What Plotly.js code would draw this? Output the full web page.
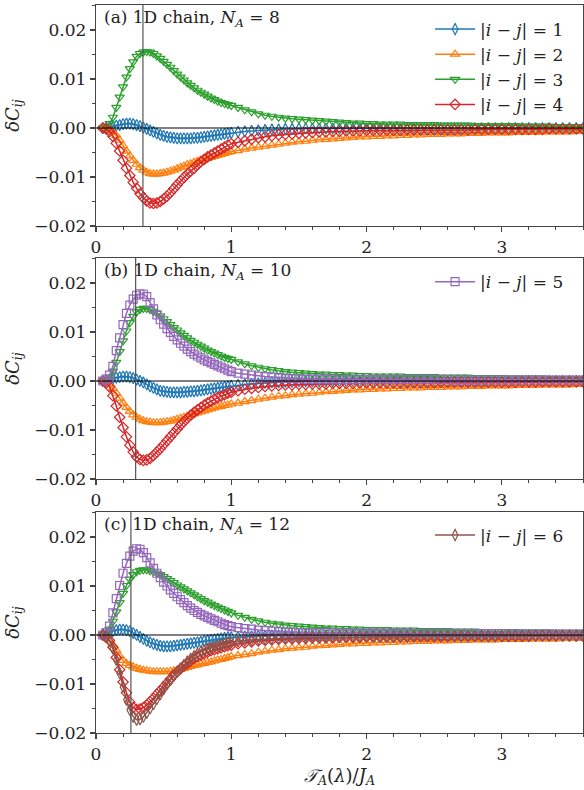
<!DOCTYPE html>
<html><head><meta charset="utf-8">
<script src="https://cdn.plot.ly/plotly-3.0.1.min.js"></script>
<style>html,body{margin:0;padding:0;background:#fff}#chart{width:584px;height:790px}</style>
</head><body><div id="chart"></div>
<script>
// ---------------- DATA ----------------
const xGrid = [
0.05,0.075,0.1,0.125,0.15,0.175,0.2,0.225,0.25,0.275,
0.3,0.325,0.35,0.375,0.4,0.425,0.45,0.475,0.5,0.525,
0.55,0.575,0.6,0.625,0.65,0.675,0.7,0.725,0.75,0.775,
0.8,0.825,0.85,0.875,0.9,0.925,0.95,0.975,1.0,
1.05,1.1,1.15,1.2,1.25,1.3,1.35,1.4,1.45,1.5,
1.55,1.6,1.65,1.7,1.75,1.8,1.85,1.9,1.95,2.0,
2.05,2.1,2.15,2.2,2.25,2.3,2.35,2.4,2.45,2.5,
2.55,2.6,2.65,2.7,2.75,2.8,2.85,2.9,2.95,3.0,
3.05,3.1,3.15,3.2,3.25,3.3,3.35,3.4,3.45,3.5,3.55,3.6];

const seriesLabels = [
'|<i>i</i> − <i>j</i>| = 1','|<i>i</i> − <i>j</i>| = 2','|<i>i</i> − <i>j</i>| = 3',
'|<i>i</i> − <i>j</i>| = 4','|<i>i</i> − <i>j</i>| = 5','|<i>i</i> − <i>j</i>| = 6'];
const panelLabels = [
'(a) 1D chain, <i>N<sub>A</sub></i> = 8',
'(b) 1D chain, <i>N<sub>A</sub></i> = 10',
'(c) 1D chain, <i>N<sub>A</sub></i> = 12'];
const tCross = [0.347, 0.293, 0.258];
const xTitle = '<i>𝒯</i><sub><i>A</i></sub>(<i>λ</i>)/<i>J</i><sub><i>A</i></sub>';
const yTitle = '<i>δC</i><sub><i>ij</i></sub>';

// panel (a) N_A = 8
const a1 = [0,0.0001,0.0002,0.0003,0.0005,0.0006,0.0008,0.0009,0.0009,0.0008,
0.0006,0.0004,0.0001,-0.0002,-0.0005,-0.0008,-0.0011,-0.0014,-0.0016,-0.0018,
-0.0019,-0.0020,-0.0021,-0.0021,-0.0021,-0.0021,-0.0021,-0.0020,-0.0020,-0.0019,
-0.0018,-0.0017,-0.0016,-0.0015,-0.0014,-0.0013,-0.0012,-0.0011,-0.0010,
-0.0008,-0.0007,-0.0006,-0.0005,-0.0004,-0.0003,-0.0003,-0.0002,-0.0002,-0.0001,
-0.0001,-0.0001,-0.0001,-0.0001,-0.0001,-0.0001,-0.0001,-0.0001,-0.0001,-0.0001,
-0.0001,-0.0001,-0.0001,-0.0001,-0.0001,-0.0001,-0.0001,-0.0001,-0.0001,-0.0001,
0,0,0,0,0,0,0,0,0,0,
0,0,0,0,0,0,0,0,0,0,0,0];
const a2 = [0,-0.0001,-0.0003,-0.0008,-0.0015,-0.0025,-0.0036,-0.0047,-0.0057,-0.0066,
-0.0074,-0.0081,-0.0086,-0.0090,-0.0093,-0.0094,-0.0094,-0.0093,-0.0092,-0.0090,
-0.0088,-0.0086,-0.0083,-0.0080,-0.0078,-0.0075,-0.0073,-0.0070,-0.0068,-0.0066,
-0.0064,-0.0062,-0.0060,-0.0058,-0.0056,-0.0054,-0.0052,-0.0050,-0.0048,
-0.0046,-0.0043,-0.0041,-0.0039,-0.0037,-0.0035,-0.0033,-0.0031,-0.0029,-0.0028,
-0.0027,-0.0025,-0.0024,-0.0023,-0.0022,-0.0021,-0.0020,-0.0019,-0.0018,-0.0018,
-0.0017,-0.0017,-0.0016,-0.0016,-0.0015,-0.0015,-0.0014,-0.0014,-0.0013,-0.0013,
-0.0013,-0.0012,-0.0012,-0.0012,-0.0011,-0.0011,-0.0011,-0.0010,-0.0010,-0.0010,
-0.0010,-0.0009,-0.0009,-0.0009,-0.0009,-0.0008,-0.0008,-0.0008,-0.0008,-0.0008,-0.0007,-0.0007];
const a3 = [0,0.0002,0.0009,0.0022,0.0042,0.0063,0.0084,0.0104,0.0121,0.0135,
0.0146,0.0152,0.0155,0.0156,0.0155,0.0152,0.0147,0.0142,0.0136,0.0130,
0.0124,0.0117,0.0110,0.0104,0.0098,0.0092,0.0087,0.0082,0.0077,0.0073,
0.0069,0.0065,0.0061,0.0058,0.0055,0.0052,0.0050,0.0048,0.0046,
0.0042,0.0037,0.0033,0.0029,0.0026,0.0024,0.0022,0.0020,0.0019,0.0018,
0.0017,0.0016,0.0015,0.0014,0.0013,0.0012,0.0011,0.0010,0.0010,0.0009,
0.0009,0.0008,0.0008,0.0008,0.0008,0.0007,0.0007,0.0007,0.0007,0.0007,
0.0006,0.0006,0.0006,0.0006,0.0006,0.0005,0.0005,0.0005,0.0005,0.0005,
0.0005,0.0005,0.0004,0.0004,0.0004,0.0004,0.0004,0.0003,0.0003,0.0003,0.0003,0.0003];
const a4 = [0,-0.0002,-0.0007,-0.0017,-0.0031,-0.0047,-0.0066,-0.0082,-0.0097,-0.0111,
-0.0123,-0.0134,-0.0142,-0.0149,-0.0153,-0.0154,-0.0153,-0.0150,-0.0145,-0.0139,
-0.0132,-0.0124,-0.0116,-0.0108,-0.0101,-0.0094,-0.0088,-0.0082,-0.0075,-0.0069,
-0.0064,-0.0059,-0.0055,-0.0051,-0.0047,-0.0043,-0.0039,-0.0035,-0.0032,
-0.0029,-0.0026,-0.0023,-0.0020,-0.0018,-0.0016,-0.0014,-0.0013,-0.0012,-0.0011,
-0.0010,-0.0009,-0.0008,-0.0008,-0.0007,-0.0007,-0.0006,-0.0006,-0.0006,-0.0005,
-0.0005,-0.0005,-0.0005,-0.0005,-0.0005,-0.0004,-0.0004,-0.0004,-0.0004,-0.0004,
-0.0004,-0.0004,-0.0004,-0.0004,-0.0004,-0.0003,-0.0003,-0.0003,-0.0003,-0.0003,
-0.0003,-0.0003,-0.0003,-0.0003,-0.0003,-0.0003,-0.0002,-0.0002,-0.0002,-0.0002,-0.0002,-0.0002];

// panel (b) N_A = 10
const b1 = [0,0.0001,0.0003,0.0005,0.0007,0.0008,0.0009,0.0009,0.0008,0.0006,
0.0003,0.0000,-0.0003,-0.0007,-0.0011,-0.0014,-0.0017,-0.0020,-0.0021,-0.0022,
-0.0023,-0.0023,-0.0023,-0.0023,-0.0022,-0.0022,-0.0021,-0.0021,-0.0020,-0.0019,
-0.0018,-0.0017,-0.0016,-0.0015,-0.0014,-0.0013,-0.0012,-0.0011,-0.0010,
-0.0008,-0.0007,-0.0006,-0.0005,-0.0004,-0.0003,-0.0003,-0.0002,-0.0002,-0.0001,
-0.0001,-0.0001,-0.0001,-0.0001,-0.0001,-0.0001,-0.0001,-0.0001,-0.0001,-0.0001,
-0.0001,-0.0001,-0.0001,-0.0001,-0.0001,-0.0001,-0.0001,-0.0001,-0.0001,-0.0001,
0,0,0,0,0,0,0,0,0,0,
0,0,0,0,0,0,0,0,0,0,0,0];
const b2 = [0,-0.0002,-0.0007,-0.0015,-0.0025,-0.0035,-0.0045,-0.0054,-0.0062,-0.0069,
-0.0074,-0.0078,-0.0081,-0.0083,-0.0084,-0.0085,-0.0085,-0.0085,-0.0084,-0.0083,
-0.0082,-0.0080,-0.0078,-0.0076,-0.0074,-0.0072,-0.0069,-0.0067,-0.0065,-0.0063,
-0.0061,-0.0059,-0.0057,-0.0055,-0.0053,-0.0052,-0.0050,-0.0049,-0.0047,
-0.0045,-0.0042,-0.0040,-0.0037,-0.0035,-0.0033,-0.0031,-0.0030,-0.0028,-0.0027,
-0.0026,-0.0025,-0.0023,-0.0022,-0.0021,-0.0020,-0.0019,-0.0018,-0.0018,-0.0017,
-0.0017,-0.0016,-0.0016,-0.0015,-0.0015,-0.0014,-0.0014,-0.0014,-0.0013,-0.0013,
-0.0013,-0.0012,-0.0012,-0.0012,-0.0011,-0.0011,-0.0011,-0.0010,-0.0010,-0.0010,
-0.0010,-0.0009,-0.0009,-0.0009,-0.0009,-0.0008,-0.0008,-0.0008,-0.0008,-0.0008,-0.0007,-0.0007];
const b3 = [0,0.0002,0.0008,0.0020,0.0038,0.0060,0.0082,0.0102,0.0119,0.0132,
0.0141,0.0146,0.0148,0.0148,0.0146,0.0142,0.0138,0.0133,0.0127,0.0121,
0.0115,0.0109,0.0104,0.0098,0.0093,0.0088,0.0083,0.0079,0.0075,0.0071,
0.0067,0.0063,0.0060,0.0057,0.0054,0.0051,0.0048,0.0046,0.0044,
0.0039,0.0035,0.0031,0.0028,0.0025,0.0023,0.0021,0.0019,0.0018,0.0017,
0.0016,0.0015,0.0014,0.0014,0.0013,0.0013,0.0012,0.0012,0.0011,0.0011,
0.0010,0.0010,0.0010,0.0010,0.0010,0.0009,0.0009,0.0009,0.0009,0.0009,
0.0008,0.0008,0.0008,0.0008,0.0008,0.0007,0.0007,0.0007,0.0007,0.0007,
0.0006,0.0006,0.0006,0.0006,0.0006,0.0006,0.0005,0.0005,0.0005,0.0005,0.0005,0.0005];
const b4 = [0,-0.0004,-0.0012,-0.0030,-0.0051,-0.0074,-0.0095,-0.0114,-0.0131,-0.0145,
-0.0155,-0.0160,-0.0162,-0.0161,-0.0158,-0.0152,-0.0145,-0.0138,-0.0130,-0.0122,
-0.0114,-0.0106,-0.0098,-0.0090,-0.0083,-0.0076,-0.0070,-0.0064,-0.0059,-0.0054,
-0.0049,-0.0045,-0.0041,-0.0037,-0.0034,-0.0031,-0.0028,-0.0025,-0.0023,
-0.0020,-0.0017,-0.0015,-0.0013,-0.0011,-0.0010,-0.0009,-0.0008,-0.0008,-0.0007,
-0.0007,-0.0006,-0.0006,-0.0006,-0.0005,-0.0005,-0.0005,-0.0005,-0.0004,-0.0004,
-0.0004,-0.0004,-0.0004,-0.0004,-0.0004,-0.0004,-0.0004,-0.0004,-0.0004,-0.0004,
-0.0003,-0.0003,-0.0003,-0.0003,-0.0003,-0.0003,-0.0003,-0.0003,-0.0003,-0.0003,
-0.0003,-0.0003,-0.0002,-0.0002,-0.0002,-0.0002,-0.0002,-0.0002,-0.0002,-0.0002,-0.0002,-0.0002];
const b5 = [0,0.0004,0.0012,0.0030,0.0062,0.0088,0.0115,0.0138,0.0155,0.0167,
0.0175,0.0178,0.0177,0.0172,0.0160,0.0147,0.0135,0.0125,0.0116,0.0107,
0.0099,0.0091,0.0084,0.0077,0.0071,0.0065,0.0060,0.0055,0.0051,0.0047,
0.0043,0.0040,0.0037,0.0034,0.0031,0.0028,0.0025,0.0022,0.0019,
0.0016,0.0014,0.0012,0.0010,0.0009,0.0008,0.0007,0.0006,0.0005,0.0005,
0.0004,0.0004,0.0004,0.0004,0.0004,0.0003,0.0003,0.0003,0.0003,0.0003,
0.0003,0.0003,0.0003,0.0003,0.0003,0.0003,0.0003,0.0003,0.0003,0.0003,
0.0003,0.0003,0.0002,0.0002,0.0002,0.0002,0.0002,0.0002,0.0002,0.0002,
0.0002,0.0002,0.0002,0.0002,0.0002,0.0002,0.0002,0.0002,0.0002,0.0002,0.0002,0.0002];

// panel (c) N_A = 12
const c1 = [0,0.0002,0.0005,0.0008,0.0010,0.0011,0.0011,0.0010,0.0008,0.0004,
0.0000,-0.0004,-0.0008,-0.0012,-0.0015,-0.0018,-0.0020,-0.0022,-0.0023,-0.0023,
-0.0023,-0.0022,-0.0021,-0.0020,-0.0019,-0.0018,-0.0017,-0.0016,-0.0015,-0.0014,
-0.0012,-0.0011,-0.0010,-0.0009,-0.0008,-0.0007,-0.0006,-0.0005,-0.0005,
-0.0004,-0.0003,-0.0003,-0.0002,-0.0002,-0.0001,-0.0001,-0.0001,-0.0001,-0.0001,
-0.0001,-0.0001,-0.0001,-0.0001,-0.0001,-0.0001,-0.0001,-0.0001,-0.0001,-0.0001,
0,0,0,0,0,0,0,0,0,0,
0,0,0,0,0,0,0,0,0,0,
0,0,0,0,0,0,0,0,0,0,0,0];
const c2 = [0,-0.0003,-0.0010,-0.0020,-0.0031,-0.0043,-0.0052,-0.0058,-0.0062,-0.0065,
-0.0068,-0.0070,-0.0072,-0.0073,-0.0074,-0.0075,-0.0075,-0.0075,-0.0075,-0.0075,
-0.0074,-0.0073,-0.0072,-0.0070,-0.0068,-0.0066,-0.0064,-0.0062,-0.0061,-0.0059,
-0.0058,-0.0056,-0.0055,-0.0053,-0.0051,-0.0050,-0.0048,-0.0046,-0.0044,
-0.0042,-0.0040,-0.0038,-0.0035,-0.0033,-0.0031,-0.0030,-0.0028,-0.0027,-0.0026,
-0.0025,-0.0023,-0.0022,-0.0021,-0.0020,-0.0019,-0.0018,-0.0018,-0.0017,-0.0017,
-0.0016,-0.0016,-0.0015,-0.0015,-0.0014,-0.0014,-0.0013,-0.0013,-0.0013,-0.0012,
-0.0012,-0.0012,-0.0011,-0.0011,-0.0011,-0.0010,-0.0010,-0.0010,-0.0010,-0.0009,
-0.0009,-0.0009,-0.0009,-0.0008,-0.0008,-0.0008,-0.0008,-0.0008,-0.0007,-0.0007,-0.0007,-0.0007];
const c3 = [0,0.0003,0.0012,0.0028,0.0047,0.0066,0.0085,0.0101,0.0114,0.0123,
0.0129,0.0132,0.0133,0.0133,0.0131,0.0129,0.0126,0.0123,0.0119,0.0115,
0.0111,0.0107,0.0102,0.0098,0.0094,0.0090,0.0086,0.0082,0.0078,0.0074,
0.0070,0.0067,0.0063,0.0060,0.0057,0.0054,0.0051,0.0048,0.0045,
0.0040,0.0036,0.0032,0.0029,0.0026,0.0024,0.0022,0.0020,0.0019,0.0018,
0.0017,0.0016,0.0015,0.0014,0.0014,0.0013,0.0013,0.0012,0.0012,0.0011,
0.0011,0.0011,0.0011,0.0010,0.0010,0.0010,0.0010,0.0009,0.0009,0.0009,
0.0009,0.0009,0.0008,0.0008,0.0008,0.0008,0.0007,0.0007,0.0007,0.0007,
0.0007,0.0007,0.0006,0.0006,0.0006,0.0006,0.0006,0.0005,0.0005,0.0005,0.0005,0.0005];
const c4 = [0,-0.0004,-0.0011,-0.0025,-0.0046,-0.0071,-0.0096,-0.0118,-0.0137,-0.0148,
-0.0152,-0.0151,-0.0148,-0.0143,-0.0136,-0.0129,-0.0121,-0.0114,-0.0106,-0.0098,
-0.0090,-0.0082,-0.0075,-0.0069,-0.0063,-0.0058,-0.0053,-0.0048,-0.0044,-0.0041,
-0.0038,-0.0035,-0.0032,-0.0030,-0.0028,-0.0026,-0.0024,-0.0022,-0.0021,
-0.0018,-0.0016,-0.0014,-0.0012,-0.0011,-0.0010,-0.0009,-0.0008,-0.0008,-0.0007,
-0.0007,-0.0006,-0.0006,-0.0006,-0.0006,-0.0005,-0.0005,-0.0005,-0.0005,-0.0004,
-0.0004,-0.0004,-0.0004,-0.0004,-0.0004,-0.0004,-0.0004,-0.0004,-0.0004,-0.0004,
-0.0004,-0.0004,-0.0003,-0.0003,-0.0003,-0.0003,-0.0003,-0.0003,-0.0003,-0.0003,
-0.0003,-0.0003,-0.0003,-0.0003,-0.0002,-0.0002,-0.0002,-0.0002,-0.0002,-0.0002,-0.0002,-0.0002];
const c5 = [0,0.0005,0.0018,0.0045,0.0074,0.0101,0.0126,0.0146,0.0161,0.0171,
0.0176,0.0175,0.0168,0.0158,0.0147,0.0136,0.0126,0.0117,0.0108,0.0100,
0.0092,0.0085,0.0078,0.0072,0.0066,0.0060,0.0055,0.0050,0.0046,0.0042,
0.0039,0.0036,0.0033,0.0030,0.0027,0.0024,0.0021,0.0019,0.0017,
0.0015,0.0013,0.0012,0.0010,0.0009,0.0008,0.0007,0.0006,0.0006,0.0005,
0.0005,0.0005,0.0005,0.0005,0.0005,0.0004,0.0004,0.0004,0.0004,0.0004,
0.0004,0.0004,0.0004,0.0004,0.0004,0.0004,0.0003,0.0003,0.0003,0.0003,
0.0003,0.0003,0.0003,0.0003,0.0003,0.0003,0.0003,0.0003,0.0003,0.0003,
0.0002,0.0002,0.0002,0.0002,0.0002,0.0002,0.0002,0.0002,0.0002,0.0002,0.0002,0.0002];
const c6 = [0,-0.0004,-0.0012,-0.0028,-0.0051,-0.0078,-0.0106,-0.0132,-0.0153,-0.0167,
-0.0173,-0.0172,-0.0167,-0.0159,-0.0150,-0.0141,-0.0131,-0.0121,-0.0111,-0.0101,
-0.0092,-0.0083,-0.0075,-0.0068,-0.0061,-0.0054,-0.0048,-0.0043,-0.0038,-0.0034,
-0.0031,-0.0028,-0.0026,-0.0024,-0.0022,-0.0020,-0.0018,-0.0016,-0.0015,
-0.0013,-0.0011,-0.0010,-0.0009,-0.0008,-0.0007,-0.0007,-0.0006,-0.0006,-0.0005,
-0.0005,-0.0005,-0.0005,-0.0005,-0.0005,-0.0004,-0.0004,-0.0004,-0.0004,-0.0004,
-0.0004,-0.0004,-0.0004,-0.0004,-0.0004,-0.0004,-0.0003,-0.0003,-0.0003,-0.0003,
-0.0003,-0.0003,-0.0003,-0.0003,-0.0003,-0.0003,-0.0003,-0.0003,-0.0003,-0.0003,
-0.0002,-0.0002,-0.0002,-0.0002,-0.0002,-0.0002,-0.0002,-0.0002,-0.0002,-0.0002,-0.0002,-0.0002];

// ---------------- STYLE ----------------
const colors = ['#1f77b4','#ff7f0e','#2ca02c','#d62728','#9467bd','#8c564b'];
const symbols = ['diamond-tall-open','triangle-up-open','triangle-down-open','diamond-open','square-open','diamond-tall-open'];
const FONT = 'DejaVu Serif';

const panels = [
  {series:[a1,a2,a3,a4], legendIds:[0,1,2,3], legend:'legend'},
  {series:[b1,b2,b3,b4,b5], legendIds:[4], legend:'legend2'},
  {series:[c1,c2,c3,c4,c5,c6], legendIds:[5], legend:'legend3'}
];

const traces = [];
panels.forEach((p, pi) => {
  const sfx = pi === 0 ? '' : String(pi + 1);
  p.series.forEach((ys, si) => {
    if (ys.length !== xGrid.length) throw new Error('length mismatch panel ' + pi + ' series ' + si + ': ' + ys.length);
    traces.push({
      type:'scatter', mode:'lines+markers', x:xGrid, y:ys,
      xaxis:'x'+sfx, yaxis:'y'+sfx,
      name: seriesLabels[si],
      legend: p.legend,
      showlegend: p.legendIds.includes(si),
      line:{color:colors[si], width:1.5},
      marker:{symbol:symbols[si], size:8, color:colors[si], line:{width:1.2, color:colors[si]}},
      cliponaxis:true
    });
  });
});

const domains = [[0.6964,1],[0.3489,0.6525],[0,0.3036]];
const axisBase = {
  showline:true, linecolor:'#444', linewidth:1.2, mirror:true,
  ticks:'outside', ticklen:5, tickwidth:1.2, tickcolor:'#444',
  zeroline:false, showgrid:false,
  tickfont:{family:FONT, size:17, color:'#222'}
};
const layout = {
  width:584, height:790,
  margin:{l:96, r:1, t:5, b:57},
  paper_bgcolor:'#fff', plot_bgcolor:'#fff',
  font:{family:FONT, size:17, color:'#222'},
  shapes:[], annotations:[]
};
const legendPos = [0.991, 0.644, 0.296];
panels.forEach((p, pi) => {
  const sfx = pi === 0 ? '' : String(pi + 1);
  layout['xaxis'+sfx] = Object.assign({}, axisBase, {
    anchor:'y'+sfx, domain:[0,1], range:[0,3.6], tick0:0, dtick:1,
    minor:{dtick:0.2, ticklen:3, ticks:'outside', tickcolor:'#444', tickwidth:1},
    title: pi === 2 ? {text:xTitle, font:{family:FONT, size:18, color:'#222'}, standoff:6} : undefined
  });
  layout['yaxis'+sfx] = Object.assign({}, axisBase, {
    anchor:'x'+sfx, domain:domains[pi], range:[-0.02,0.0251], tick0:0, dtick:0.01, tickformat:'.2f',
    minor:{dtick:0.005, ticklen:3, ticks:'outside', tickcolor:'#444', tickwidth:1},
    title:{text:yTitle, font:{family:FONT, size:18, color:'#222'}, standoff:10}
  });
  layout.shapes.push({type:'line', xref:'x'+sfx+' domain', yref:'y'+sfx, x0:0, x1:1, y0:0, y1:0,
    line:{color:'#000', width:1.2}, layer:'above'});
  layout.shapes.push({type:'line', xref:'x'+sfx, yref:'y'+sfx+' domain', x0:tCross[pi], x1:tCross[pi], y0:0, y1:1,
    line:{color:'#555', width:1.2}, layer:'above'});
  layout.annotations.push({xref:'x'+sfx+' domain', yref:'y'+sfx+' domain', x:0.012, y:1.0,
    xanchor:'left', yanchor:'top', showarrow:false, text:panelLabels[pi],
    font:{family:FONT, size:17, color:'#222'}});
  layout[p.legend] = {x:0.686, y:legendPos[pi], xanchor:'left', yanchor:'top',
    bgcolor:'rgba(255,255,255,0)', borderwidth:0,
    font:{family:FONT, size:17, color:'#222'}, tracegroupgap:0, itemwidth:40};
});

Plotly.newPlot('chart', traces, layout, {displayModeBar:false, staticPlot:true});
</script>
</body></html>
